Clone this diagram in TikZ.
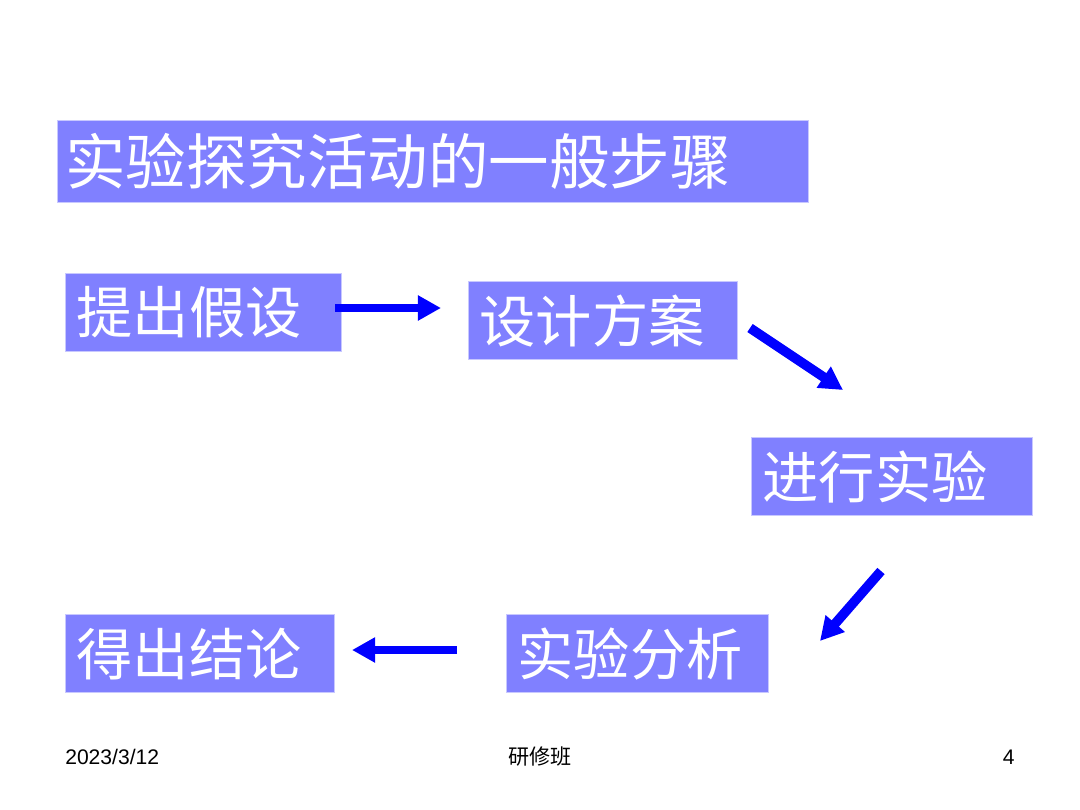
\documentclass[tikz,border=0pt]{standalone}
\usepackage{fontspec}
\setmainfont{Liberation Sans}
\newfontfamily\cjk{Noto Sans CJK SC}
\usetikzlibrary{arrows.meta}
\definecolor{boxfill}{HTML}{8080FF}
\definecolor{boxline}{HTML}{C8C8FF}
\definecolor{arrowblue}{HTML}{0000FF}
\tikzset{stepbox/.style={fill=boxfill,draw=boxline,line width=0.6pt,text=white,anchor=north west,inner xsep=0.28cm,inner ysep=0pt,align=left,text width=#1,font=\cjk\fontsize{40}{40}\selectfont}}
\tikzset{steparrow/.style={draw=arrowblue,line width=0.2cm,-{Triangle[length=0.58cm,width=0.6cm]}}}
\tikzset{footer/.style={font=\fontsize{15}{15}\selectfont,inner sep=0pt}}

\begin{document}
\begin{tikzpicture}[x=0.025cm,y=-0.025cm]
    		\useasboundingbox[fill=white] (0,0) rectangle (1080,810);
    		\node[stepbox=18.375cm,minimum height=2.05cm,font=\cjk\fontsize{43}{43}\selectfont,inner xsep=0.2cm] (title) at (57,120) {实验探究活动的一般步骤};
    		\foreach \name/\x/\y/\w/\descr in {hypo/65/273/6.34cm/提出假设,plan/468/281/6.165cm/设计方案,exper/751/437/6.465cm/进行实验,concl/65/614/6.165cm/得出结论,analysis/506/614/5.99cm/实验分析}
        	{
        		\node[stepbox=\w,minimum height=1.96cm] (\name) at (\x,\y) {\descr};
        	}
    		\coordinate (a1s) at (335,308);
    		\coordinate (a1e) at (441,308);
    		\coordinate (a2s) at (750,328);
    		\coordinate (a2e) at (843,390);
    		\coordinate (a3s) at (881,571);
    		\coordinate (a3e) at (820,641);
    		\coordinate (a4s) at (457,650);
    		\coordinate (a4e) at (352,650);
    		\draw [steparrow] (a1s) -- (a1e);
    		\draw [steparrow,line width=0.24cm] (a2s) -- (a2e);
    		\draw [steparrow,line width=0.24cm] (a3s) -- (a3e);
    		\draw [steparrow] (a4s) -- (a4e);
    		\node[footer,anchor=west] (date) at (65,757) {2023/3/12};
    		\node[footer,font=\cjk\fontsize{15}{15}\selectfont] (group) at (540,757) {研修班};
    		\node[footer,anchor=east] (page) at (1015,757) {4};
		\end{tikzpicture}
\end{document}
